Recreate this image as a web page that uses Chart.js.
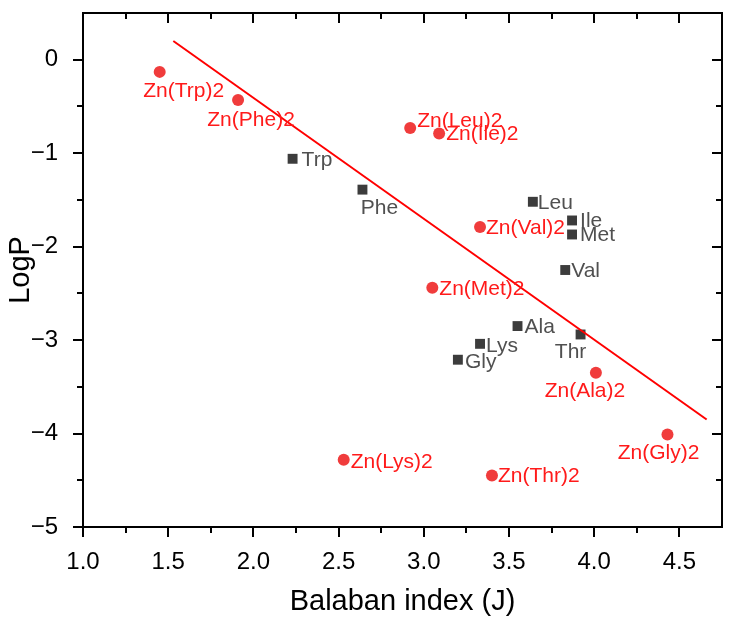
<!DOCTYPE html>
<html><head><meta charset="utf-8">
<script src="https://cdn.jsdelivr.net/npm/chart.js@4"></script>
<style>html,body{margin:0;padding:0;background:#fff}</style>
</head><body>
<canvas id="c" width="737" height="627" style="width:737px;height:627px;display:block"></canvas>
<script>
// ---- data ----
const aminoNames = ['Trp','Phe','Leu','Ile','Met','Val','Ala','Thr','Lys','Gly'];
const aminoJ     = [2.23, 2.64, 3.64, 3.87, 3.87, 3.83, 3.55, 3.92, 3.33, 3.20];
const aminoLogP  = [-1.06,-1.39,-1.52,-1.72,-1.87,-2.25,-2.85,-2.94,-3.04,-3.21];

const zincNames = ['Zn(Trp)2','Zn(Phe)2','Zn(Leu)2','Zn(Ile)2','Zn(Val)2','Zn(Met)2','Zn(Ala)2','Zn(Gly)2','Zn(Lys)2','Zn(Thr)2'];
const zincJ     = [1.45, 1.91, 2.92, 3.09, 3.33, 3.05, 4.01, 4.43, 2.53, 3.40];
const zincLogP  = [-0.13,-0.43,-0.73,-0.79,-1.79,-2.44,-3.35,-4.01,-4.28,-4.45];

const fitJ    = [1.53, 4.66];
const fitLogP = [0.20, -3.85];

const xTickValues = [1.0, 1.5, 2.0, 2.5, 3.0, 3.5, 4.0, 4.5];
const yTickValues = [-5, -4, -3, -2, -1, 0];

// ---- label placement (style, not data): [align, dx, dy] in px ----
const aminoLabelPlace = [['left',9,1],['center',17,19],['left',5,1],['left',8,1],['left',8,1],['left',6,1],['left',7,1],['center',-10,18],['left',6,2],['left',7,2]];
const zincLabelPlace  = [['center',24,19],['center',13,20],['left',7,-7],['left',7,1],['left',6,1],['left',7,1],['center',-11,18],['center',-9,19],['left',7,2],['left',6,1]];

const FONT = '"Liberation Sans", Arial, Helvetica, sans-serif';

const toPts = (xs, ys) => xs.map((x, i) => ({x, y: ys[i]}));

const labelPlugin = {
  id: 'pointLabels',
  afterDatasetsDraw(chart) {
    const ctx = chart.ctx;
    chart.data.datasets.forEach((ds, di) => {
      if (!ds.pointNames) return;
      const meta = chart.getDatasetMeta(di);
      ctx.save();
      ctx.font = '21px ' + FONT;
      ctx.fillStyle = ds.labelColor;
      ctx.textBaseline = 'middle';
      meta.data.forEach((el, i) => {
        const [al, dx, dy] = ds.labelPlace[i];
        ctx.textAlign = al;
        ctx.fillText(ds.pointNames[i], el.x + dx, el.y + dy);
      });
      ctx.restore();
    });
  }
};

const framePlugin = {
  id: 'frame',
  afterDraw(chart) {
    const {ctx, chartArea: a, scales: {x, y}} = chart;
    ctx.save();
    ctx.strokeStyle = '#000';
    ctx.lineWidth = 2;
    ctx.strokeRect(a.left, a.top, a.right - a.left, a.bottom - a.top);
    const MAJ = 10, MIN = 6;
    const mid = arr => arr.slice(0, -1).map((v, i) => (v + arr[i + 1]) / 2);
    const xStep = xTickValues[1] - xTickValues[0];
    const xMinor = mid(xTickValues).concat([xTickValues[xTickValues.length-1] + xStep/2]).filter(v => v < x.max);
    const yStep = yTickValues[1] - yTickValues[0];
    const yMinor = mid(yTickValues).concat([yTickValues[yTickValues.length-1] + yStep/2]).filter(v => v < y.max);
    ctx.beginPath();
    const vx = (v, len) => {
      const px = Math.round(x.getPixelForValue(v));
      ctx.moveTo(px, a.bottom); ctx.lineTo(px, a.bottom + len);   // outward bottom
      ctx.moveTo(px, a.top);    ctx.lineTo(px, a.top + len);      // inward top
    };
    const vy = (v, len) => {
      const py = Math.round(y.getPixelForValue(v));
      ctx.moveTo(a.left, py);  ctx.lineTo(a.left - len, py);      // outward left
      ctx.moveTo(a.right, py); ctx.lineTo(a.right - len, py);     // inward right
    };
    xTickValues.forEach(v => vx(v, MAJ));
    xMinor.forEach(v => vx(v, MIN));
    yTickValues.forEach(v => vy(v, MAJ));
    yMinor.forEach(v => vy(v, MIN));
    ctx.stroke();
    ctx.restore();
  }
};

new Chart(document.getElementById('c'), {
  type: 'scatter',
  data: {
    datasets: [
      {
        type: 'line', label: 'fit', data: toPts(fitJ, fitLogP),
        borderColor: '#ff0000', borderWidth: 2, pointRadius: 0, fill: false, order: 0
      },
      {
        label: 'Amino acids', data: toPts(aminoJ, aminoLogP),
        pointStyle: 'rect', pointRadius: 7, backgroundColor: '#3c3c3c', borderColor: '#3c3c3c', borderWidth: 0,
        pointNames: aminoNames, labelPlace: aminoLabelPlace, labelColor: '#505050', order: 1
      },
      {
        label: 'Zn complexes', data: toPts(zincJ, zincLogP),
        pointStyle: 'circle', pointRadius: 6, backgroundColor: '#f03c3c', borderColor: '#f03c3c', borderWidth: 0,
        pointNames: zincNames, labelPlace: zincLabelPlace, labelColor: '#ff1a1a', order: 1
      }
    ]
  },
  options: {
    responsive: false, animation: false, devicePixelRatio: 1,
    layout: {padding: {top: 13, right: 15, bottom: 0, left: 0}},
    plugins: {legend: {display: false}, tooltip: {enabled: false}},
    scales: {
      x: {
        type: 'linear', min: 1.0, max: 4.75,
        grid: {display: false}, border: {display: false},
        afterBuildTicks: s => { s.ticks = xTickValues.map(v => ({value: v})); },
        afterFit: s => { s.height = 100; s.paddingLeft = 0; s.paddingRight = 0; s.paddingTop = 0; s.paddingBottom = 0; },
        ticks: {padding: 13, color: '#000', font: {family: FONT, size: 24}, maxRotation: 0,
                callback: v => Number(v).toFixed(1)},
        title: {display: true, text: 'Balaban index (J)', color: '#000', font: {family: FONT, size: 29}, padding: {top: 0, bottom: 8}}
      },
      y: {
        type: 'linear', min: -5, max: 0.5,
        grid: {display: false}, border: {display: false},
        afterBuildTicks: s => { s.ticks = yTickValues.map(v => ({value: v})); },
        afterFit: s => { s.width = 83; s.paddingLeft = 0; s.paddingRight = 0; s.paddingTop = 0; s.paddingBottom = 0; },
        ticks: {padding: 17, color: '#000', font: {family: FONT, size: 24},
                callback: v => (v < 0 ? '\u2212' + Math.abs(v) : String(v))},
        title: {display: true, text: 'LogP', color: '#000', font: {family: FONT, size: 29}, padding: {top: 4, bottom: 0}}
      }
    }
  },
  plugins: [labelPlugin, framePlugin]
});
</script>
</body></html>
